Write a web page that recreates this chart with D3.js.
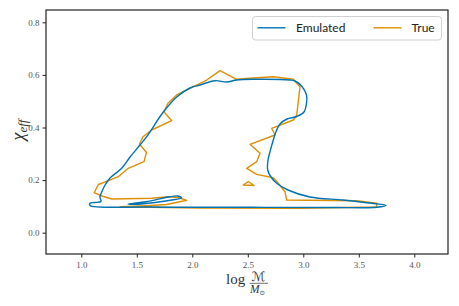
<!DOCTYPE html>
<html>
<head>
<meta charset="utf-8">
<script src="https://cdn.jsdelivr.net/npm/d3@7"></script>
<style>
  html, body { margin: 0; padding: 0; background: #fff; }
  svg { display: block; }
</style>
</head>
<body>
<svg id="chart" width="459" height="306"></svg>
<script>
// ---- data ----
const seriesNames = ["Emulated", "True"];
const seriesColors = ["#0173b2", "#de8f05"];
const xTicks = [1.0, 1.5, 2.0, 2.5, 3.0, 3.5, 4.0];
const yTicks = [0.0, 0.2, 0.4, 0.6, 0.8];

// Emulated contour (outer)
const emulatedOuterX = [1.078,1.619,2.520,3.268,3.664,3.745,3.571,3.358,3.060,2.862,2.763,2.709,2.679,2.682,2.700,2.727,2.754,2.790,2.853,2.941,3.006,3.029,3.029,2.988,2.925,2.880,2.547,2.400,2.310,2.205,2.069,1.979,1.862,1.739,1.589,1.529,1.439,1.364,1.259,1.214,1.182,1.168,1.177,1.123,1.078];
const emulatedOuterY = [0.1034,0.0977,0.0966,0.0958,0.0966,0.1042,0.1141,0.1243,0.1357,0.1624,0.1871,0.2118,0.2384,0.2764,0.3080,0.3487,0.3840,0.4133,0.4323,0.4418,0.4590,0.4932,0.5236,0.5559,0.5768,0.5806,0.5833,0.5806,0.5730,0.5780,0.5616,0.5502,0.5171,0.4589,0.3650,0.3335,0.2878,0.2449,0.2080,0.1814,0.1529,0.1357,0.1186,0.1148,0.1118];
// Emulated contour (inner sliver)
const emulatedInnerX = [1.421,1.583,1.799,1.871,1.903,1.844,1.664,1.484];
const emulatedInnerY = [0.1091,0.1179,0.1369,0.1395,0.1319,0.1262,0.1148,0.1080];

// True contour (outer)
const trueOuterX = [2.250,2.130,1.979,1.859,1.781,1.745,1.814,1.634,1.556,1.524,1.587,1.565,1.423,1.333,1.223,1.153,1.117,1.184,1.277,1.634,1.784,1.874,1.950,1.769,1.589,1.349,2.069,2.970,3.661,3.661,3.481,2.850,2.835,2.775,2.730,2.580,2.490,2.580,2.610,2.520,2.745,2.715,2.910,2.941,2.970,2.910,2.730,2.547,2.400];
const trueOuterY = [0.6160,0.5806,0.5490,0.5236,0.4920,0.4600,0.4259,0.3905,0.3650,0.3373,0.3050,0.2700,0.2449,0.2129,0.1939,0.1833,0.1521,0.1395,0.1281,0.1308,0.1369,0.1338,0.1232,0.1072,0.1027,0.0989,0.0939,0.0928,0.0977,0.1118,0.1217,0.1243,0.1559,0.1878,0.2091,0.2220,0.2449,0.2700,0.3019,0.3361,0.3715,0.3970,0.4285,0.4475,0.5551,0.5833,0.5932,0.5882,0.5833];
// True contour (small island)
const trueIslandX = [2.459,2.505,2.556];
const trueIslandY = [0.1814,0.1947,0.1795];

// ---- layout ----
const svg = d3.select("#chart");
const plot = { left: 46, top: 10, right: 448, bottom: 254 };
const x = d3.scaleLinear().domain([0.682, 4.3036]).range([plot.left, plot.right]);
const y = d3.scaleLinear().domain([-0.081, 0.8468]).range([plot.bottom, plot.top]);

svg.append("rect").attr("width", 459).attr("height", 306).attr("fill", "#fff");

const serif = "'Liberation Serif', 'DejaVu Serif', serif";

// axes
const xAxis = svg.append("g")
  .attr("transform", `translate(0,${plot.bottom})`)
  .call(d3.axisBottom(x).tickValues(xTicks).tickFormat(d3.format(".1f")).tickSize(3.5).tickPadding(4));
const yAxis = svg.append("g")
  .attr("transform", `translate(${plot.left},0)`)
  .call(d3.axisLeft(y).tickValues(yTicks).tickFormat(d3.format(".1f")).tickSize(3.5).tickPadding(3));
[xAxis, yAxis].forEach(g => {
  g.select(".domain").remove();
  g.selectAll(".tick line").attr("stroke", "#222").attr("stroke-width", 1);
  g.selectAll(".tick text").attr("font-family", serif).attr("font-size", 9).attr("fill", "#555");
});

// contours
function pts(xs, ys) { return xs.map((v, i) => [x(v), y(ys[i])]); }
const smooth = d3.line().curve(d3.curveCatmullRomClosed.alpha(0.5));
const jag = d3.line().curve(d3.curveLinearClosed);

const contours = [
  { xs: trueOuterX, ys: trueOuterY, c: 1, gen: jag },
  { xs: trueIslandX, ys: trueIslandY, c: 1, gen: jag },
  { xs: emulatedOuterX, ys: emulatedOuterY, c: 0, gen: smooth },
  { xs: emulatedInnerX, ys: emulatedInnerY, c: 0, gen: smooth }
];
svg.append("g").selectAll("path").data(contours).join("path")
  .attr("d", d => d.gen(pts(d.xs, d.ys)))
  .attr("fill", "none")
  .attr("stroke", d => seriesColors[d.c])
  .attr("stroke-width", 1.4)
  .attr("stroke-linejoin", "round");

// frame
svg.append("rect")
  .attr("x", plot.left).attr("y", plot.top)
  .attr("width", plot.right - plot.left).attr("height", plot.bottom - plot.top)
  .attr("fill", "none").attr("stroke", "#222").attr("stroke-width", 1.2);

// legend
const lg = svg.append("g");
lg.append("rect").attr("x", 252.5).attr("y", 16.5).attr("width", 189).attr("height", 23.5)
  .attr("rx", 3).attr("fill", "#fff").attr("stroke", "#d0d0d0").attr("stroke-width", 1);
const legendItems = [
  { lx: 257.5, tx: 296 },
  { lx: 373.5, tx: 411.5 }
];
seriesNames.forEach((n, i) => {
  lg.append("line").attr("x1", legendItems[i].lx).attr("x2", legendItems[i].lx + 28)
    .attr("y1", 27.8).attr("y2", 27.8).attr("stroke", seriesColors[i]).attr("stroke-width", 1.4);
  lg.append("text").attr("x", legendItems[i].tx).attr("y", 32)
    .attr("font-family", "Lato, 'Open Sans', sans-serif").attr("font-size", 12).attr("fill", "#222")
    .text(n);
});

// y label
const yl = svg.append("text")
  .attr("transform", "translate(24,130) rotate(-90)")
  .attr("text-anchor", "middle")
  .attr("font-family", serif).attr("font-style", "italic").attr("fill", "#333");
yl.append("tspan").attr("font-size", 18).text("χ");
yl.append("tspan").attr("font-size", 13).attr("dy", 3).text("eff");

// x label
const xl = svg.append("g").attr("fill", "#333").attr("font-family", serif);
xl.append("text").attr("x", 226).attr("y", 284).attr("font-size", 15).text("log");
xl.append("text").attr("x", 258.5).attr("y", 280.5).attr("text-anchor", "middle")
  .attr("font-size", 13).attr("font-family", "'DejaVu Sans', sans-serif").text("ℳ");
xl.append("line").attr("x1", 249.5).attr("x2", 268).attr("y1", 283.3).attr("y2", 283.3)
  .attr("stroke", "#333").attr("stroke-width", 0.7);
const den = xl.append("text").attr("x", 250).attr("y", 293).attr("font-size", 11.5);
den.append("tspan").attr("font-style", "italic").text("M");
den.append("tspan").attr("font-size", 6.5).attr("dy", 1.5).attr("font-family", "'DejaVu Sans', sans-serif").text("⊙");
</script>
</body>
</html>
